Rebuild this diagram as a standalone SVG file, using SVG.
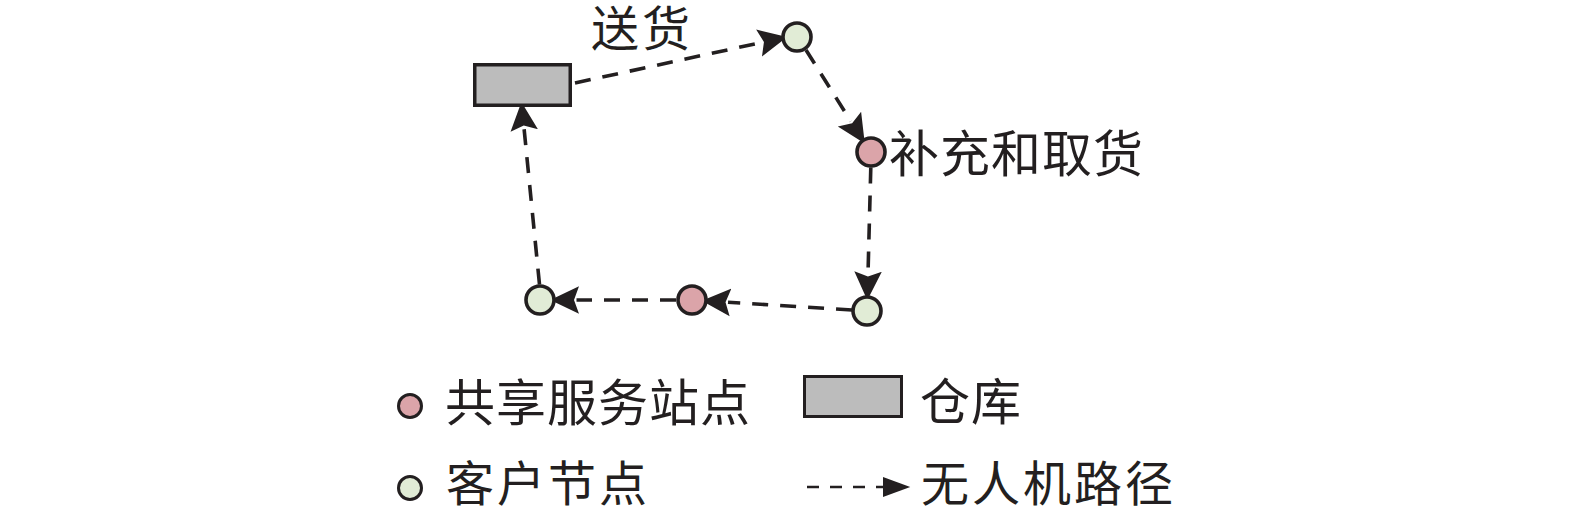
<svg xmlns="http://www.w3.org/2000/svg" width="1575" height="510" viewBox="0 0 1575 510">
<style>
.lbl{font-family:"Noto Sans CJK SC","Noto Sans",sans-serif;font-size:50px;fill:#231f20;letter-spacing:1px}
.sm{font-size:48px;letter-spacing:3px}
.edge{fill:none;stroke:#231f20;stroke-width:3.6;stroke-dasharray:16 12}
.cust{fill:#e1ecd6;stroke:#231f20;stroke-width:3.6}
.stn{fill:#dba4a9;stroke:#231f20;stroke-width:3.6}
.wh{fill:#bcbcbc;stroke:#231f20;stroke-width:3.5}
</style>
<defs>
<marker id="ah" markerUnits="userSpaceOnUse" markerWidth="30" markerHeight="30" viewBox="0 -12 24 24" refX="2" refY="0" orient="auto">
<path d="M0,-11 L23,0 L0,11 L4,0 Z" fill="#231f20"/>
</marker>
<marker id="ahs" markerUnits="userSpaceOnUse" markerWidth="30" markerHeight="30" viewBox="0 -10 24 20" refX="1" refY="0" orient="auto">
<path d="M0,-8 L22,0 L0,8 Z" fill="#231f20"/>
</marker>
</defs>
<rect width="1575" height="510" fill="#ffffff"/>
<g id="connectors">
<line class="edge" x1="575" y1="83" x2="761.5" y2="42.5" marker-end="url(#ah)"/>
<line class="edge" x1="806" y1="50" x2="850.8" y2="121.2" marker-end="url(#ah)"/>
<line class="edge" x1="870.8" y1="167.5" x2="868" y2="274" marker-end="url(#ah)"/>
<line class="edge" x1="852" y1="310" x2="728" y2="302.3" marker-end="url(#ah)"/>
<line class="edge" x1="676" y1="300" x2="576.5" y2="300" marker-end="url(#ah)"/>
<line class="edge" x1="539.5" y1="284.5" x2="524" y2="128" marker-end="url(#ah)"/>
</g>
<g id="warehouse"><rect class="wh" x="474.75" y="64.75" width="95.5" height="40.5"/></g>
<g id="customer1"><circle class="cust" cx="797" cy="37" r="14"/></g>
<g id="station1"><circle class="stn" cx="871" cy="152" r="14"/></g>
<g id="customer2"><circle class="cust" cx="867" cy="311" r="14"/></g>
<g id="station2"><circle class="stn" cx="692" cy="300" r="14"/></g>
<g id="customer3"><circle class="cust" cx="540" cy="300" r="14"/></g>
<g id="label-delivery"><text class="lbl sm" x="591" y="46">送货</text></g>
<g id="label-replenish"><text class="lbl" x="889" y="172">补充和取货</text></g>
<g id="legend">
<circle cx="410" cy="406" r="11.5" fill="#dba4a9" stroke="#231f20" stroke-width="3"/>
<text class="lbl" x="445" y="421">共享服务站点</text>
<circle cx="410" cy="488" r="11.5" fill="#e1ecd6" stroke="#231f20" stroke-width="3"/>
<text class="lbl sm" x="446" y="501">客户节点</text>
<rect x="804.5" y="376.5" width="97" height="40" fill="#bcbcbc" stroke="#231f20" stroke-width="3"/>
<text class="lbl" x="920" y="420">仓库</text>
<line x1="807" y1="487" x2="884" y2="487" stroke="#231f20" stroke-width="2.7" stroke-dasharray="12 11" marker-end="url(#ahs)"/>
<text class="lbl sm" x="921" y="501">无人机路径</text>
</g>
</svg>
